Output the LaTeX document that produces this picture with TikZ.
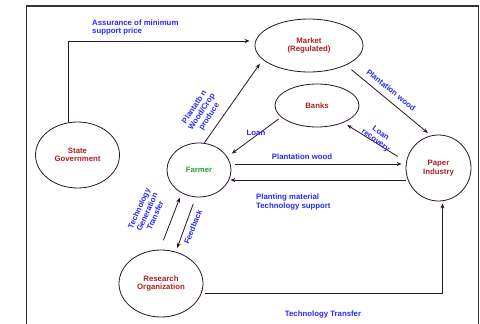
\documentclass[tikz,border=0pt]{standalone}
\usepackage{fontspec}
\setmainfont{Liberation Sans}
\usetikzlibrary{shapes.geometric,arrows.meta}
\definecolor{lblue}{RGB}{40,40,250}
\definecolor{nred}{RGB}{175,30,35}
\definecolor{ngreen}{RGB}{40,165,40}
\definecolor{lnc}{RGB}{45,20,45}
\tikzset{
  ell/.style={ellipse, draw=lnc, line width=0.8pt, inner sep=0pt, align=center,
    font=\fontsize{7.8}{8.6}\selectfont\bfseries, text=nred},
  arr/.style={draw=lnc, line width=0.8pt, -{Stealth[length=5pt,width=4pt]}},
  lbl/.style={font=\fontsize{7.8}{8.8}\selectfont\bfseries, text=lblue, inner sep=0pt, align=center},
}
\begin{document}
\begin{tikzpicture}[x=1pt,y=-1pt]
\useasboundingbox (0,0) rectangle (480,324);
\fill[white] (0,0) rectangle (480,324);
% frame
\draw[line width=1.6pt, draw={rgb,255:red,50;green,50;blue,50}] (26.5,330) -- (26.5,6) -- (478.5,6) -- (478.5,330);
% nodes
\node[ell, minimum width=108pt, minimum height=53pt] (market) at (309,45.5) {Market\\(Regulated)};
\node[ell, minimum width=84pt, minimum height=43pt] (banks) at (317,105.5) {Banks};
\node[ell, minimum width=84pt, minimum height=66pt] (state) at (77.5,155) {State\\Government};
\node[ell, minimum width=64pt, minimum height=54pt, text=ngreen] (farmer) at (199,170) {Farmer};
\node[ell, minimum width=65pt, minimum height=66pt] (paper) at (438.5,168) {Paper\\Industry};
\node[ell, minimum width=84pt, minimum height=67pt] (research) at (161,283.5) {Research\\Organization};
% connectors
\draw[arr, shorten >=5pt] (state.106) |- ([yshift=4.5pt]market.west);
\draw[arr, shorten >=5pt] (farmer.79.5) -- (market.197);
\draw[arr, shorten <=7pt, shorten >=4pt] (market.-28.2) -- (paper.103.3);
\draw[arr, shorten <=3pt, shorten >=5.5pt] (banks.198.2) -- (farmer.25.9);
\draw[arr, shorten <=10pt, shorten >=4.5pt] (paper.169.3) -- (banks.-33);
\draw[arr, shorten <=4pt, shorten >=4pt] ([yshift=6pt]farmer.east) -- ([yshift=4pt]paper.west);
\draw[arr, shorten >=-1pt] ([yshift=-12pt]paper.west) -- ([yshift=-10pt]farmer.east);
\draw[arr, shorten <=10pt, shorten >=5pt] (research.92.6) -- (farmer.233.5);
\draw[arr, shorten <=7pt, shorten >=4pt] (farmer.263.3) -- (research.65.7);
\draw[arr, shorten >=2pt] ([yshift=-9.5pt,xshift=2pt]research.east) -| ([xshift=4pt]paper.south);
% labels
\node[lbl, anchor=west, align=left] (l1) at (92,27.5) {Assurance of minimum\\support price};
\node[lbl, rotate=56.6] (l2) at (202,112) {Plantatb n\\Wood/Crop\\produce};
\node[lbl, rotate=-38.7] (l3) at (391,90) {Plantation wood};
\node[lbl] (l4) at (256,133) {Loan};
\node[lbl, rotate=-35.5] (l5) at (378,137) {Loan\\recovery};
\node[lbl] (l6) at (302,157) {Plantation wood};
\node[lbl, anchor=west, align=left] (l7) at (256,202) {Planting material\\Technology support};
\node[lbl, rotate=66] (l8) at (147,212) {Technology\\Generation\\Transfer};
\node[lbl, rotate=67.7] (l9) at (193,227) {Feedback};
\node[lbl] (l10) at (323,314) {Technology Transfer};
\end{tikzpicture}
\end{document}
